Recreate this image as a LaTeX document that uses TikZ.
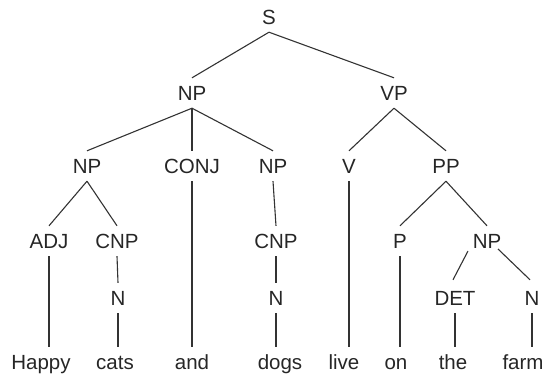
\documentclass[tikz,border=0pt]{standalone}
\usepackage{fontspec}
\setmainfont{Liberation Sans}
\begin{document}
\begin{tikzpicture}[x=1pt,y=-1pt,
  lbl/.style={font=\fontsize{20.5}{24}\selectfont, inner sep=0pt, minimum height=30pt, text height=14.7pt, text depth=0pt, text=black!85},
  edge/.style={draw=black!80, line width=1.1pt}]
\useasboundingbox (0,0) rectangle (547,373);
% nodes
\node[lbl] (S) at (269,17) {S};
\node[lbl] (NP1) at (192,93) {NP};
\node[lbl] (VP) at (394,93) {VP};
\node[lbl] (NP2) at (87,166) {NP};
\node[lbl] (CONJ) at (192,166) {CONJ};
\node[lbl] (NP3) at (273,166) {NP};
\node[lbl] (V) at (349,166) {V};
\node[lbl] (PP) at (446,166) {PP};
\node[lbl] (ADJ) at (49,241) {ADJ};
\node[lbl] (CNP1) at (117,241) {CNP};
\node[lbl] (CNP2) at (276,241) {CNP};
\node[lbl] (P) at (400,241) {P};
\node[lbl] (NP4) at (487,241) {NP};
\node[lbl] (N1) at (118,298) {N};
\node[lbl] (N2) at (276,298) {N};
\node[lbl] (DET) at (455,298) {DET};
\node[lbl] (N3) at (532,298) {N};
\node[lbl] (happy) at (41,362.6) {Happy};
\node[lbl] (cats) at (115,362.6) {cats};
\node[lbl] (and) at (192,362.6) {and};
\node[lbl] (dogs) at (280,362.6) {dogs};
\node[lbl] (live) at (344,362.6) {live};
\node[lbl] (on) at (396,362.6) {on};
\node[lbl] (the) at (453,362.6) {the};
\node[lbl] (farm) at (523,362.6) {farm};
% edges
\draw[edge] (S.south) -- (NP1.north);
\draw[edge] (S.south) -- (VP.north);
\draw[edge] (NP1.south) -- (NP2.north);
\draw[edge] (NP1.south) -- (CONJ.north);
\draw[edge] (NP1.south) -- (NP3.north);
\draw[edge] (VP.south) -- (V.north);
\draw[edge] (VP.south) -- (PP.north);
\draw[edge] (NP2.south) -- (ADJ.north);
\draw[edge] (NP2.south) -- (CNP1.north);
\draw[edge] (ADJ.south) -- (ADJ.south |- happy.north);
\draw[edge] (CNP1.south) -- (N1.north);
\draw[edge] (N1.south) -- (N1.south |- cats.north);
\draw[edge] (CONJ.south) -- (CONJ.south |- and.north);
\draw[edge] (NP3.south) -- (CNP2.north);
\draw[edge] (CNP2.south) -- (N2.north);
\draw[edge] (N2.south) -- (N2.south |- dogs.north);
\draw[edge] (V.south) -- (V.south |- live.north);
\draw[edge] (PP.south) -- (P.north);
\draw[edge] (PP.south) -- (NP4.north);
\draw[edge] (P.south) -- (P.south |- on.north);
\draw[edge] ([shift={(-19,10)}]NP4.center) -- ([shift={(-2,-3)}]DET.north);
\draw[edge] ([shift={(11,8)}]NP4.center) -- ([shift={(-2,-3)}]N3.north);
\draw[edge] (DET.south) -- (DET.south |- the.north);
\draw[edge] (N3.south) -- (N3.south |- farm.north);
\end{tikzpicture}
\end{document}
